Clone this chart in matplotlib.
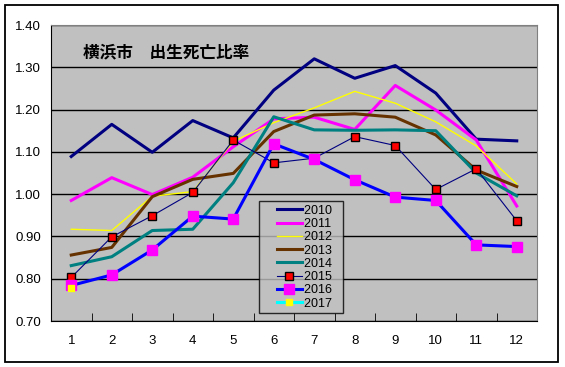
import matplotlib
matplotlib.use('Agg')
import matplotlib.pyplot as plt
from matplotlib.patches import Rectangle
from matplotlib.legend_handler import HandlerLine2D

plt.rcParams['font.family'] = ['Liberation Sans', 'Noto Sans CJK JP', 'DejaVu Sans']

months = [1, 2, 3, 4, 5, 6, 7, 8, 9, 10, 11, 12]
y2010 = [1.089, 1.165, 1.099, 1.174, 1.133, 1.246, 1.320, 1.274, 1.304, 1.239, 1.130, 1.126]
y2011 = [0.985, 1.039, 0.999, 1.040, 1.112, 1.178, 1.182, 1.153, 1.257, 1.199, 1.128, 0.972]
y2012 = [0.917, 0.914, 0.995, 1.006, 1.125, 1.169, 1.204, 1.243, 1.215, 1.171, 1.114, 1.024]
y2013 = [0.856, 0.874, 0.994, 1.035, 1.049, 1.148, 1.187, 1.190, 1.182, 1.140, 1.057, 1.018]
y2014 = [0.831, 0.852, 0.914, 0.917, 1.027, 1.183, 1.152, 1.151, 1.152, 1.150, 1.050, 0.996]
y2015 = [0.803, 0.899, 0.949, 1.004, 1.128, 1.074, 1.085, 1.136, 1.115, 1.011, 1.060, 0.937]
y2016 = [0.784, 0.809, 0.868, 0.948, 0.941, 1.119, 1.082, 1.034, 0.993, 0.985, 0.880, 0.876]
m2017 = [1]
y2017 = [0.777]

fig = plt.figure(figsize=(5.65, 3.67), dpi=100)
ax = fig.add_axes([51/565, 1-321/367, 486/565, 296/367])
ax.set_facecolor('#C0C0C0')

ax.plot(months, y2010, color='#000080', lw=2.2, label='2010')
ax.plot(months, y2011, color='#FF00FF', lw=2.2, label='2011')
ax.plot(months, y2012, color='#FFFF00', lw=1, label='2012')
ax.plot(months, y2013, color='#663300', lw=2.2, label='2013')
ax.plot(months, y2014, color='#008080', lw=2.2, label='2014')
ax.plot(months, y2015, color='#000080', lw=0.8, marker='s', ms=6,
        mfc='#FF0000', mec='black', mew=1, label='2015')
ax.plot(months, y2016, color='#0000FF', lw=2.2, marker='s', ms=7,
        mfc='#FF00FF', mec='#FF00FF', label='2016')
ax.plot(m2017, y2017, color='#00FFFF', lw=2.2, marker='s', ms=4,
        mfc='#FFFF00', mec='#FFFF00', label='2017')

ax.set_xlim(0.5, 12.5)
ax.set_ylim(0.70, 1.40)
ax.set_yticks([0.7, 0.8, 0.9, 1.0, 1.1, 1.2, 1.3, 1.4])
ax.set_yticklabels(['%.2f' % v for v in ax.get_yticks()])
ax.grid(axis='y', color='black', lw=1)
ax.set_axisbelow(True)
ax.set_xticks(months)
ax.set_xticklabels([str(m) for m in months])
ax.set_xticks([m + 0.5 for m in months[:-1]], minor=True)
ax.tick_params(axis='x', which='major', length=0, pad=10, labelsize=9.5)
ax.tick_params(axis='x', which='minor', direction='in', length=6, color='black')
ax.tick_params(axis='y', length=0, pad=7, labelsize=9.5)
ax.spines['left'].set_color('black')
ax.spines['bottom'].set_color('black')
ax.spines['top'].set_color('#808080')
ax.spines['right'].set_color('#808080')

ax.text(0.066, 0.909, '横浜市　出生死亡比率', transform=ax.transAxes, va='center',
        fontsize=12, fontweight='bold', family=['Noto Sans CJK JP', 'DejaVu Sans'])

labels = ['2010', '2011', '2012', '2013', '2014', '2015', '2016', '2017']
handles, _ = ax.get_legend_handles_labels()
leg = ax.legend(handles, [s + '  ' for s in labels],
                loc='lower left', bbox_to_anchor=(0.4286, 0.026), fontsize=9,
                frameon=True, fancybox=False, facecolor='#C0C0C0', edgecolor='black',
                labelspacing=0.1, handlelength=3.1, handletextpad=0.18,
                borderpad=0.3, borderaxespad=0,
                handler_map={h: HandlerLine2D(xpad=1.1) for h in handles})
leg.get_frame().set_linewidth(1)

fig.patches.append(Rectangle((5/565, 1-362/367), 553/565, 357/367, transform=fig.transFigure,
                             fill=False, edgecolor='black', lw=1.3))

fig.savefig('out.png', dpi=100, facecolor='white')
